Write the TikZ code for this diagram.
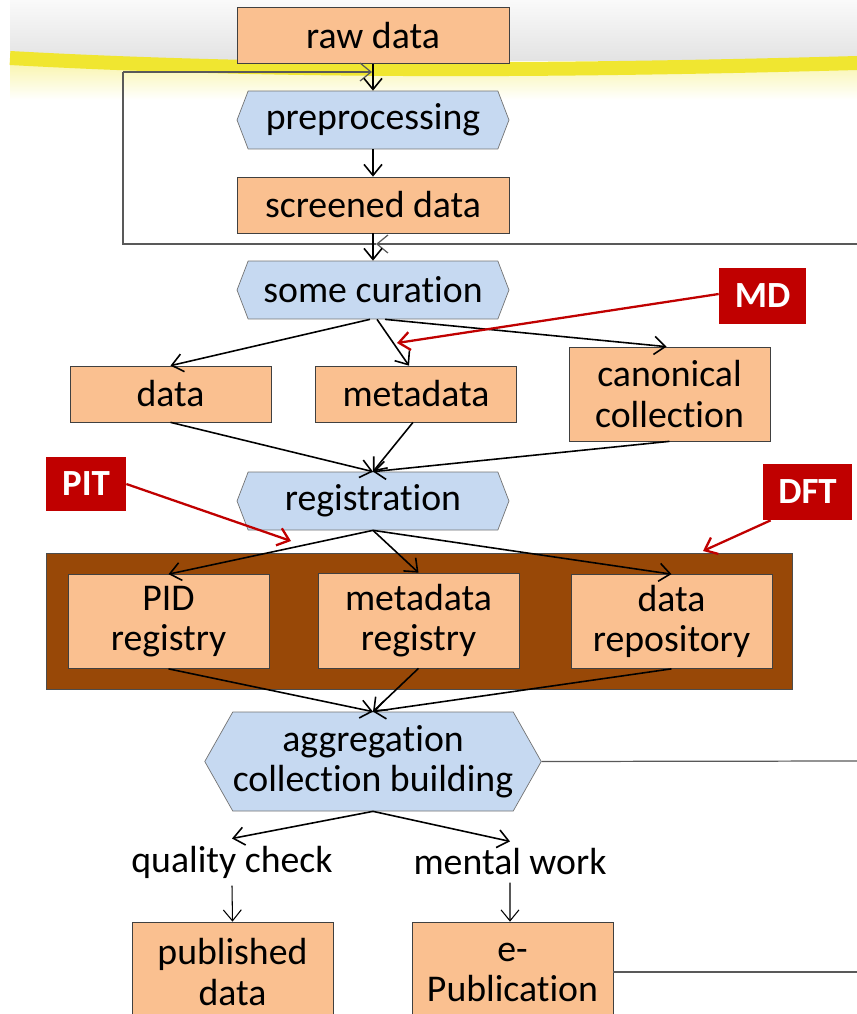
\documentclass[tikz,border=0pt]{standalone}
\usepackage{fontspec}
\setmainfont{Carlito}[Ligatures=NoCommon]
\usetikzlibrary{shapes.symbols,arrows.meta}

\definecolor{peach}{HTML}{FAC090}
\definecolor{paleblue}{HTML}{C6D9F1}
\definecolor{darkred}{HTML}{C00000}
\definecolor{rust}{HTML}{984807}
\definecolor{bandyellow}{HTML}{F0E630}

\newcommand\boxfont{\fontsize{21.5}{22.8}\selectfont}
\newcommand\tagfont{\fontsize{21}{24}\selectfont\bfseries}

\begin{document}
\begin{tikzpicture}[
    x=0.02cm, y=-0.02cm,
    box/.style={rectangle, draw=black!75, fill=peach, minimum width=4.02cm, minimum height=1.12cm, align=center, inner sep=0pt, font=\boxfont},
    wide box/.style={box, minimum width=5.44cm},
    proc/.style={signal, signal to=east and west, signal pointer angle=138, draw=black!55, fill=paleblue, minimum width=5.44cm, minimum height=1.16cm, inner sep=0pt, align=center, font=\boxfont},
    tag/.style={rectangle, fill=darkred, text=white, inner sep=0pt, font=\tagfont},
    arrow/.style={-{Straight Barb[length=2.2mm,width=3.6mm]}, line width=0.9pt},
    pointer/.style={arrow, draw=darkred, line width=1.3pt},
    loopline/.style={draw=black!65, line width=0.7pt},
    step label/.style={inner sep=0.14cm, font=\boxfont}
]
    \clip (0,0) rectangle (857,1014);

    % backdrop with the yellow swoosh
    \fill[top color=black!2, bottom color=black!11] (10,0) rectangle (857,60);
    \fill[top color=bandyellow!40, bottom color=white] (10,62) rectangle (857,100);
    \draw[bandyellow, line width=0.28cm] (10,58) .. controls (300,74) and (600,70) .. (857,63);

    % main chain
    \node[wide box] (raw) at (373,35.5) {raw data};
    \node[proc] (prep) at (373,120) {preprocessing};
    \node[wide box] (screened) at (373,205) {screened data};
    \node[proc] (cur) at (373,290) {some curation};

    \node[box] (data) at (170.5,394) {data};
    \node[box] (meta) at (416,394) {metadata};
    \node[box, minimum height=1.88cm] (canon) at (669.5,394) {canonical\\collection};

    \node[proc] (reg) at (373,501) {registration};

    % registries
    \node[draw=black!70, fill=rust, minimum width=14.92cm, minimum height=2.72cm] (store) at (419,621) {};
    \node[box, minimum height=1.88cm] (pid) at (168.5,621.5) {PID\\registry};
    \node[box, minimum height=1.9cm] (mreg) at (418.5,620.5) {metadata\\registry};
    \node[box, minimum height=1.88cm] (repo) at (671.5,621.5) {data\\repository};

    \node[proc, minimum width=6.64cm, minimum height=1.98cm, signal pointer angle=121] (agg) at (373,761.5) {aggregation\\collection building};

    \node[step label] (qc) at (232,862) {quality check};
    \node[step label] (mw) at (510,862) {mental work};

    \node[box, minimum height=2cm] (pub) at (232.5,972) {published\\data};
    \node[box, minimum height=2cm] (epub) at (512.5,972) {e-\\Publication};

    % tags
    \node[tag, minimum width=1.74cm, minimum height=1.12cm] (md) at (762.5,296) {MD};
    \node[tag, minimum width=1.6cm, minimum height=1.08cm] (pit) at (86,484) {PIT};
    \node[tag, minimum width=1.78cm, minimum height=1.12cm] (dft) at (807.5,492) {DFT};

    % feedback loop
    \coordinate (joinTop) at (372,72);
    \coordinate (joinBot) at (376,244);
    \coordinate (loopTL) at (123,72);
    \coordinate (loopBL) at (123,244);
    \coordinate (loopR) at (857,244);
    \draw[loopline, arrow, line width=0.7pt] (loopR) -- (joinBot);
    \draw[loopline] (joinBot) -- (loopBL) -- (loopTL);
    \draw[loopline, arrow, line width=0.7pt] (loopTL) -- (joinTop);

    % arrows
    \draw[arrow] (raw.south) -- (prep.north);
    \draw[arrow] (prep.south) -- (screened.north);
    \draw[arrow] (screened.south) -- (cur.north);

    \draw[arrow] ([xshift=-0.06cm]cur.south) -- (data.north);
    \draw[arrow] ([xshift=0.08cm]cur.south) -- ([xshift=-0.14cm]meta.north);
    \draw[arrow] ([xshift=0.24cm]cur.south) -- ([xshift=-0.06cm]canon.north);

    \draw[arrow] (data.south) -- (reg.north);
    \draw[arrow] ([xshift=-0.06cm]meta.south) -- (reg.north);
    \draw[arrow] (canon.south) -- (reg.north);

    \draw[arrow] (reg.south) -- (pid.north);
    \draw[arrow] (reg.south) -- (mreg.north);
    \draw[arrow] (reg.south) -- (repo.north);

    \draw[arrow] (pid.south) -- (agg.north);
    \draw[arrow] (mreg.south) -- (agg.north);
    \draw[arrow] (repo.south) -- (agg.north);

    \draw[arrow] (agg.south) -- (qc.north);
    \draw[arrow] (agg.south) -- (mw.north);
    \draw[arrow, line width=0.6pt] (qc.south) -- (pub.north);
    \draw[arrow, line width=0.6pt] (mw.south) -- ([xshift=-0.05cm]epub.north);

    % outgoing lines
    \coordinate (aggR) at (857,761);
    \coordinate (epubR) at (857,972);
    \draw[loopline] (agg.east) -- (aggR);
    \draw[loopline] (epub.east) -- (epubR);

    % tag pointers
    \coordinate (mdTip) at (397,343);
    \coordinate (pitTip) at (291,541);
    \coordinate (dftTip) at (703,551);
    \draw[pointer] ([yshift=0.04cm]md.west) -- (mdTip);
    \draw[pointer] (pit.east) -- (pitTip);
    \draw[pointer] ([xshift=0.16cm]dft.south west) -- (dftTip);
\end{tikzpicture}
\end{document}
